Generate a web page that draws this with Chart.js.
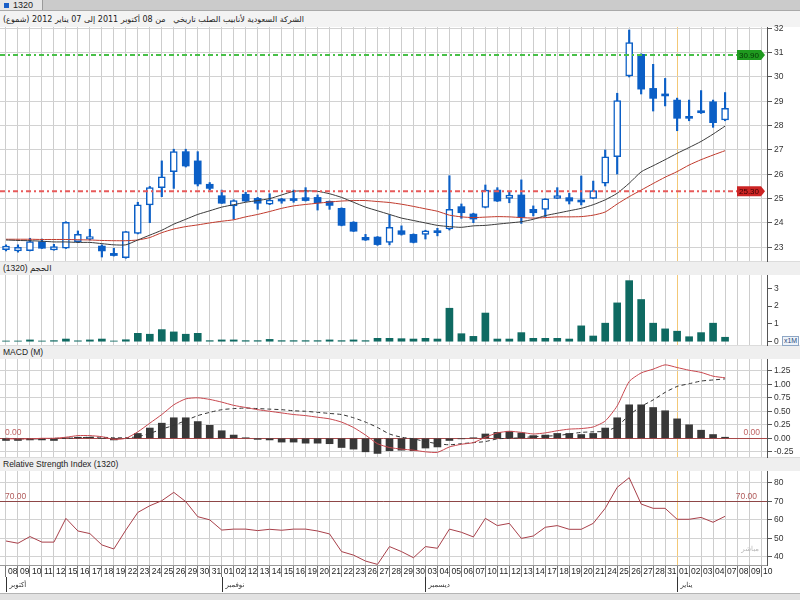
<!DOCTYPE html>
<html><head><meta charset="utf-8">
<script src="https://cdn.jsdelivr.net/npm/chart.js@4.4.0/dist/chart.umd.min.js"></script>
<style>
html,body{margin:0;padding:0;}
body{width:800px;height:600px;overflow:hidden;background:#fff;position:relative;font-family:"Liberation Sans","DejaVu Sans",sans-serif;}
.abs{position:absolute;}
.band{position:absolute;left:0;width:800px;background:#efefef;border-top:1px solid #dcdcdc;box-sizing:border-box;font-size:8.5px;color:#222;line-height:13px;padding-left:3px;}
canvas{position:absolute;left:0;}
</style></head><body>
<div class="abs" style="left:0;top:0;width:800px;height:10px;background:#cbcbcb;border-bottom:1px solid #a9a9a9;"></div>
<div class="abs" style="left:0;top:0;width:42px;height:10px;background:#e6e6e6;border-right:1px solid #9a9a9a;font-size:9px;line-height:10px;color:#222;">
  <span style="display:inline-block;width:5px;height:5px;background:#1a5fc8;margin:0 4px 0 4px;vertical-align:0px;"></span>1320</div>
<div class="band" style="top:11px;height:16px;background:#f3f3f3;border-top:none;line-height:16px;"><span dir="rtl" style="display:inline-block;font-family:'DejaVu Sans',sans-serif;font-size:8px;">الشركة السعودية لأنابيب الصلب تاريخي &nbsp; من 08 أكتوبر 2011 إلى 07 يناير 2012 (شموع)</span></div>
<div class="band" style="top:261px;height:14px;"><span dir="rtl" style="display:inline-block;">الحجم (1320)</span></div>
<div class="band" style="top:345px;height:14px;">MACD (M)</div>
<div class="band" style="top:457px;height:14px;">Relative Strength Index (1320)</div>
<div class="abs" style="left:0;top:593px;width:800px;height:7px;background:#e2e2e2;border-top:1px solid #b5b5b5;"></div>

<canvas id="cPrice" width="800" height="250" style="top:19px;"></canvas>
<canvas id="cVol" width="800" height="86" style="top:267px;"></canvas>
<canvas id="cMacd" width="800" height="114" style="top:351px;"></canvas>
<canvas id="cRsi" width="800" height="132" style="top:463px;"></canvas>
<div class="abs" style="left:782px;top:336px;width:15px;height:8px;border:1px solid #8fa7c4;background:#eef3fa;font-size:7px;line-height:8px;color:#2a4a7a;text-align:center;">x1M</div>

<script>
// ---------- DATA ----------
const dates = ['08','09','10','11','12','15','16','17','18','19','22','23','24','25','26','29','30','31',
  '01','02','12','13','14','15','16','19','20','21','22','23','26','27','28','29','30',
  '03','04','05','06','07','10','11','12','13','14','17','18','19','20','21','24','25','26','27','28','31',
  '01','02','03','04','07','08','09','10'];
const monthNames = ['أكتوبر','نوفمبر','ديسمبر','يناير'];

const openP  = [22.90,22.85,22.86,23.23,22.89,22.96,23.23,23.33,23.05,22.75,22.57,23.57,24.74,25.45,26.11,26.93,26.55,25.59,25.12,24.70,25.18,25.01,24.77,24.90,24.92,25.04,25.05,24.89,24.60,24.03,23.41,23.42,23.20,23.68,23.53,23.53,23.60,23.75,24.67,24.37,24.64,25.35,25.01,25.15,24.56,24.56,25.01,25.04,24.94,25.01,25.63,26.72,30.04,30.93,29.53,29.22,29.05,28.30,28.53,28.98,28.23];
const highP  = [23.10,23.10,23.37,23.34,23.12,24.05,23.67,23.74,23.10,22.96,23.65,24.85,25.50,26.55,27.03,27.03,26.93,25.66,25.35,24.95,25.26,25.05,25.20,25.01,25.35,25.45,25.15,24.90,24.62,24.05,23.53,23.44,24.33,23.88,23.55,23.70,23.78,25.94,24.78,24.40,25.56,25.45,25.29,25.77,24.70,25.00,25.45,25.22,25.93,25.72,27.00,29.33,31.93,30.95,30.52,29.94,29.13,29.05,29.44,29.05,29.36];
const lowP   = [22.85,22.80,22.85,22.95,22.88,22.95,23.20,23.30,22.60,22.64,22.55,23.55,24.01,25.08,25.42,26.30,25.52,25.35,24.80,24.16,24.88,24.56,24.75,24.81,24.85,24.90,24.53,24.56,23.88,23.65,23.28,23.08,23.10,23.50,23.18,23.34,23.47,23.71,24.19,24.01,24.62,24.88,24.83,23.98,24.29,24.26,25.00,24.78,24.74,25.00,25.52,26.01,30.00,29.30,28.60,28.81,27.79,28.20,28.50,27.93,28.20];
const closeP = [23.05,23.00,23.23,22.96,23.03,24.03,23.53,23.44,22.85,22.66,23.64,24.74,25.45,25.90,26.93,26.34,25.60,25.42,24.81,24.92,24.90,24.81,24.94,24.90,24.92,24.92,24.83,24.72,23.90,23.66,23.30,23.11,23.82,23.53,23.20,23.68,23.60,24.56,24.42,24.16,25.35,24.90,25.15,24.23,24.42,24.99,25.12,24.90,24.86,25.33,26.72,29.03,31.41,29.50,29.12,29.22,28.30,28.30,28.53,28.12,28.71];

const maShort = [23.30,23.28,23.27,23.25,23.22,23.22,23.20,23.20,23.15,23.10,23.10,23.30,23.50,23.70,23.95,24.15,24.35,24.50,24.65,24.75,24.85,24.92,25.00,25.15,25.30,25.32,25.30,25.20,25.05,24.85,24.65,24.50,24.35,24.20,24.10,24.00,23.90,23.85,23.82,23.88,23.90,23.95,24.00,24.05,24.15,24.30,24.40,24.50,24.60,24.75,24.95,25.22,25.63,26.10,26.35,26.60,26.86,27.10,27.35,27.65,27.98];
const maLong  = [23.33,23.33,23.33,23.32,23.32,23.32,23.31,23.30,23.28,23.27,23.27,23.30,23.40,23.60,23.75,23.85,23.92,24.00,24.07,24.13,24.25,24.35,24.47,24.60,24.70,24.76,24.81,24.86,24.90,24.92,24.92,24.88,24.84,24.77,24.68,24.58,24.48,24.32,24.25,24.22,24.24,24.26,24.25,24.22,24.20,24.22,24.25,24.25,24.26,24.32,24.45,24.78,25.08,25.35,25.62,25.88,26.11,26.38,26.60,26.79,26.97];
const priceLevels = [30.90, 25.30];

const volume = [0.04,0.04,0.10,0.04,0.06,0.15,0.05,0.10,0.15,0.04,0.11,0.47,0.42,0.68,0.55,0.42,0.47,0.06,0.10,0.10,0.06,0.06,0.13,0.06,0.06,0.06,0.06,0.10,0.06,0.10,0.06,0.19,0.19,0.17,0.15,0.19,0.15,1.88,0.45,0.30,1.61,0.15,0.15,0.51,0.19,0.19,0.19,0.15,0.89,0.32,1.04,2.18,3.43,2.37,1.04,0.72,0.59,0.28,0.51,1.04,0.25];

const macdHist   = [-0.04,-0.04,-0.03,-0.03,-0.04,0.01,0.02,0.02,0.00,-0.03,0.00,0.09,0.19,0.28,0.38,0.38,0.31,0.24,0.14,0.06,0.01,-0.02,-0.03,-0.07,-0.07,-0.09,-0.09,-0.10,-0.17,-0.20,-0.25,-0.28,-0.23,-0.22,-0.23,-0.18,-0.16,-0.04,-0.01,0.01,0.08,0.11,0.13,0.10,0.05,0.06,0.09,0.09,0.07,0.09,0.19,0.38,0.62,0.62,0.57,0.51,0.36,0.25,0.15,0.07,0.02];
const macdLine   = [-0.01,-0.01,-0.01,0.00,0.00,0.02,0.05,0.05,0.03,-0.02,0.00,0.12,0.28,0.44,0.62,0.73,0.75,0.72,0.67,0.61,0.57,0.53,0.50,0.47,0.44,0.42,0.39,0.36,0.30,0.20,0.06,-0.10,-0.17,-0.20,-0.22,-0.25,-0.26,-0.16,-0.11,-0.08,0.02,0.10,0.13,0.11,0.08,0.10,0.14,0.17,0.18,0.21,0.32,0.60,1.05,1.21,1.28,1.36,1.31,1.26,1.22,1.15,1.12];
const macdSignal = [0.00,-0.01,-0.01,-0.01,0.00,0.00,0.01,0.02,0.02,0.01,0.01,0.03,0.09,0.17,0.24,0.33,0.42,0.48,0.53,0.55,0.56,0.55,0.54,0.53,0.51,0.50,0.48,0.46,0.44,0.38,0.30,0.20,0.08,0.02,-0.01,-0.06,-0.10,-0.12,-0.10,-0.08,-0.06,-0.01,0.00,0.01,0.03,0.04,0.05,0.08,0.11,0.12,0.13,0.22,0.43,0.59,0.71,0.85,0.96,1.01,1.06,1.08,1.10];
const macdLevel = 0;

const rsi = [48.6,47.4,51.0,48.0,48.0,60.8,54.0,52.6,46.5,44.3,54.5,64.0,67.6,70.3,74.8,69.8,61.7,60.0,54.5,55.0,55.0,54.2,54.9,54.4,55.0,55.0,54.0,52.4,42.9,41.0,37.8,36.0,45.6,42.9,39.6,45.6,44.7,55.0,53.3,50.8,60.8,56.9,58.1,50.0,51.3,56.0,56.9,54.9,54.9,58.1,66.2,77.5,82.7,68.5,66.2,66.2,60.3,60.3,61.3,58.7,61.9];
const rsiLevel = 70;

const priceTicks  = [23,24,25,26,27,28,29,30,31,32];
const volumeTicks = [0,1,2,3];
const macdTicks   = [-0.25,0,0.25,0.5,0.75,1,1.25];
const rsiTicks    = [40,50,60,70,80];

// ---------- helpers ----------
const monthStarts = dates.reduce((a, d, i) => { if (i === 0 || +d < +dates[i-1]) a.push(i); return a; }, []);
const yearIdx = monthStarts[monthStarts.length - 1];
const BLUE = '#0b5fc6';
const FONT = 'Liberation Sans';

const xBase = (show) => ({
  type: 'category', offset: true,
  grid: { offset: false, color: c => c.index === yearIdx ? '#f3c877' : '#cdcdcd', lineWidth: 1,
          drawTicks: show, tickLength: 12, tickColor: '#777' },
  border: { display: show, color: '#9a9a9a' },
  ticks: { display: show, autoSkip: false, maxRotation: 0, minRotation: 0, align: 'start',
           labelOffset: 2, padding: -10, color: '#222', font: { family: FONT, size: 8.5 } },
  afterFit: s => { s.height = show ? 30 : 0; s.paddingLeft = 0; s.paddingRight = 0; s.paddingTop = 0; s.paddingBottom = 0; }
});
const yBase = (min, max, tickVals, fmt, gridOn) => ({
  position: 'right', min, max,
  afterBuildTicks: s => { s.ticks = tickVals.map(v => ({ value: v })); },
  afterFit: s => { s.width = 33; s.paddingTop = 0; s.paddingBottom = 0; },
  grid: { drawOnChartArea: gridOn, color: '#d2d2d2', tickLength: 5, tickColor: '#555' },
  border: { color: '#555' },
  ticks: { padding: 2, color: '#333', font: { family: FONT, size: 8.5 }, callback: v => fmt(v) }
});
const common = (pt, pb) => ({
  responsive: false, animation: false, events: [],
  layout: { padding: { top: pt, bottom: pb, left: 0, right: 0 } },
  plugins: { legend: { display: false }, tooltip: { enabled: false } }
});
function hLine(ctx, area, y, color, dash, x1) {
  ctx.save(); ctx.strokeStyle = color; ctx.lineWidth = 1; ctx.setLineDash(dash || []);
  ctx.beginPath(); ctx.moveTo(area.left, Math.round(y) + 0.5); ctx.lineTo(x1 == null ? area.right : x1, Math.round(y) + 0.5); ctx.stroke(); ctx.restore();
}
function txt(ctx, s, x, y, color, align, size, base) {
  ctx.save(); ctx.fillStyle = color; ctx.font = (size || 8.5) + 'px "' + FONT + '"';
  ctx.textAlign = align || 'left'; ctx.textBaseline = base || 'middle'; ctx.fillText(s, x, y); ctx.restore();
}
function tag(ctx, xEnd, y, s, fill, col) {
  const w = 24, h = 10, tip = 4, x0 = xEnd - w - tip;
  ctx.save(); ctx.beginPath();
  ctx.moveTo(x0, y - h/2); ctx.lineTo(x0 + w, y - h/2); ctx.lineTo(x0 + w + tip, y); ctx.lineTo(x0 + w, y + h/2); ctx.lineTo(x0, y + h/2); ctx.closePath();
  ctx.fillStyle = fill; ctx.fill(); ctx.restore();
  txt(ctx, s, x0 + w/2, y + 0.5, col, 'center', 8);
  return x0;
}

// ---------- PRICE ----------
const bodies = openP.map((o, i) => [Math.min(o, closeP[i]), Math.max(o, closeP[i])]);
const wicks = lowP.map((l, i) => [l, highP[i]]);
const isUp = closeP.map((c, i) => c > openP[i]);
const levelStyle = [{ line: '#48c048', fill: '#1f9a1f', text: '#063806' }, { line: '#e85a5a', fill: '#cc2424', text: '#3a0000' }];

new Chart(document.getElementById('cPrice'), {
  type: 'bar',
  data: { labels: dates, datasets: [
    { type: 'line', data: maShort, borderColor: '#3a3a3a', borderWidth: 1, pointRadius: 0, tension: 0.2, order: 0 },
    { type: 'line', data: maLong, borderColor: '#c0392b', borderWidth: 1, pointRadius: 0, tension: 0.2, order: 0 },
    { data: bodies, backgroundColor: isUp.map(u => u ? '#ffffff' : BLUE), borderColor: BLUE,
      borderWidth: isUp.map(u => u ? 1.5 : 0), borderSkipped: false, barThickness: 7, minBarLength: 2, grouped: false, order: 1 },
    { data: wicks, backgroundColor: BLUE, barThickness: 1.5, grouped: false, order: 2 }
  ]},
  options: { ...common(8, 8), scales: { x: xBase(false), y: yBase(22.436, 32.053, priceTicks, v => String(v), true) } },
  plugins: [{
    id: 'priceLevels',
    afterDatasetsDraw(chart) {
      const { ctx, chartArea: a, scales: { y } } = chart;
      priceLevels.forEach((v, k) => {
        const py = y.getPixelForValue(v);
        const x0 = tag(ctx, a.right - 2, py, v.toFixed(2), levelStyle[k].fill, levelStyle[k].text);
        ctx.save();
        ctx.strokeStyle = levelStyle[k].line; ctx.lineWidth = 2; ctx.setLineDash([5, 3, 2, 3]);
        ctx.beginPath(); ctx.moveTo(a.left, py); ctx.lineTo(x0, py); ctx.stroke();
        ctx.restore();
      });
    }
  }]
});

// ---------- VOLUME ----------
new Chart(document.getElementById('cVol'), {
  type: 'bar',
  data: { labels: dates, datasets: [{ data: volume, backgroundColor: '#0f6a62', barThickness: 7 }] },
  options: { ...common(8, 8), scales: { x: xBase(false), y: yBase(-0.185, 3.747, volumeTicks, v => String(v), false) } }
});

// ---------- MACD ----------
new Chart(document.getElementById('cMacd'), {
  type: 'bar',
  data: { labels: dates, datasets: [
    { type: 'line', data: macdLine, borderColor: '#c8474e', borderWidth: 1, pointRadius: 0, tension: 0.2, order: 0 },
    { type: 'line', data: macdSignal, borderColor: '#333', borderWidth: 1, borderDash: [4, 3], pointRadius: 0, tension: 0.2, order: 1 },
    { data: macdHist, backgroundColor: '#383838', barThickness: 7, order: 2 }
  ]},
  options: { ...common(8, 8), scales: { x: xBase(false), y: yBase(-0.346, 1.468, macdTicks, v => v.toFixed(2), true) } },
  plugins: [{
    id: 'macdZero',
    beforeDatasetsDraw(chart) {
      const { ctx, chartArea: a, scales: { y } } = chart;
      const py = y.getPixelForValue(macdLevel);
      hLine(ctx, a, py, '#a84848');
      txt(ctx, macdLevel.toFixed(2), a.left + 5, py - 1, '#c06464', 'left', 8.5, 'bottom');
      txt(ctx, macdLevel.toFixed(2), a.right - 7, py - 1, '#c06464', 'right', 8.5, 'bottom');
    }
  }]
});

// ---------- RSI ----------
new Chart(document.getElementById('cRsi'), {
  type: 'line',
  data: { labels: dates, datasets: [{ data: rsi, borderColor: '#a8404a', borderWidth: 1, pointRadius: 0, tension: 0 }] },
  options: { ...common(8, 0), scales: { x: xBase(true), y: yBase(35.68, 86.3, rsiTicks, v => String(v), true) } },
  plugins: [{
    id: 'rsiExtras',
    beforeDatasetsDraw(chart) {
      const { ctx, chartArea: a, scales: { y } } = chart;
      const py = y.getPixelForValue(rsiLevel);
      hLine(ctx, a, py, '#8e4646');
      txt(ctx, rsiLevel.toFixed(2), a.left + 5, py - 5, '#b05a5a', 'left', 8.5);
      txt(ctx, rsiLevel.toFixed(2), a.right - 10, py - 5, '#b05a5a', 'right', 8.5);
      ctx.save(); ctx.fillStyle = '#b8b8b8'; ctx.font = '7px "DejaVu Sans"'; ctx.textAlign = 'right'; ctx.textBaseline = 'middle';
      ctx.fillText('مباشر', a.right - 8, a.bottom - 16); ctx.restore();
    },
    afterDraw(chart) {
      const { ctx, chartArea: a, scales: { x } } = chart;
      ctx.save();
      monthStarts.forEach((idx, k) => {
        const px = Math.round(x.getPixelForValue(idx)) + 0.5;
        ctx.strokeStyle = '#333'; ctx.lineWidth = 1;
        ctx.beginPath(); ctx.moveTo(px, a.bottom + 12); ctx.lineTo(px, a.bottom + 27); ctx.stroke();
        ctx.fillStyle = '#333'; ctx.font = '7px "DejaVu Sans"'; ctx.textAlign = 'left'; ctx.textBaseline = 'middle';
        ctx.fillText(monthNames[k], px + 3, a.bottom + 20);
      });
      ctx.restore();
    }
  }]
});
</script>
</body></html>
